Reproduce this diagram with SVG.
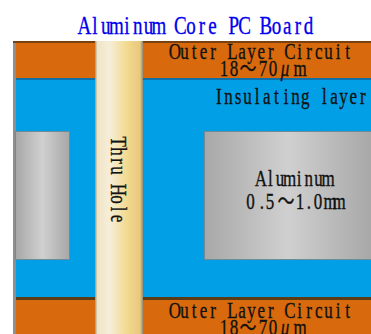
<svg xmlns="http://www.w3.org/2000/svg" width="371" height="334" viewBox="0 0 371 334">
<defs>
<linearGradient id="via" x1="0" x2="1" y1="0" y2="0"><stop offset="0" stop-color="#9a9482"/><stop offset="0.05" stop-color="#f0e4c4"/><stop offset="0.3" stop-color="#f6eeda"/><stop offset="0.68" stop-color="#f2d98c"/><stop offset="0.94" stop-color="#e8c87e"/><stop offset="1" stop-color="#8f8a7a"/></linearGradient>
<linearGradient id="al" x1="0" x2="1" y1="0" y2="0"><stop offset="0" stop-color="#a8a8a8"/><stop offset="0.5" stop-color="#d0d0d0"/><stop offset="1" stop-color="#a8a8a8"/></linearGradient>
<filter id="soft" x="-5%" y="-5%" width="110%" height="110%"><feGaussianBlur stdDeviation="0.6"/></filter>
</defs>
<style>
.t{font-family:"Liberation Serif","Noto Sans CJK JP",serif;font-size:17px;fill:#111;stroke:#111;stroke-width:0.25px;text-anchor:middle}
.cu{fill:#d86a10}
.ins{fill:#009fe6}
</style>
<rect width="371" height="334" fill="#fff"/>
<g id="board" filter="url(#soft)">
<rect x="13" y="41" width="358" height="293" fill="#8f8f8f"/>
<rect class="ins" x="16" y="78" width="355" height="221"/>
<rect class="cu" x="16" y="43" width="355" height="35"/>
<rect x="13" y="41" width="358" height="2" fill="#7a3f0c"/>
<rect x="16" y="78" width="355" height="2" fill="#0a6fa8"/>
<rect x="16" y="297" width="355" height="3" fill="#5a3a18"/>
<rect class="cu" x="16" y="300" width="355" height="34"/>
</g>
<g id="al-left" filter="url(#soft)">
<rect x="15" y="131" width="55" height="129" fill="#6f8a9a"/>
<rect x="16" y="132" width="53" height="127" fill="url(#al)"/>
</g>
<g id="al-right" filter="url(#soft)">
<rect x="204" y="131" width="167" height="129" fill="#6f8a9a"/>
<rect x="205" y="132" width="166" height="127" fill="url(#al)"/>
</g>
<g id="via-hole" filter="url(#soft)">
<rect x="95" y="41" width="48" height="293" fill="url(#via)"/>
</g>
<g id="labels">
<text class="t" style="fill:#0000ee;stroke:#0000ee;font-size:19px" transform="translate(0,33.500) scale(1,1.35)" x="84.3 95 105.7 116.3 127 137.7 148.4 159 169.7 180.4 191.1 201.8 212.4 223.1 233.8 244.5 255.2 265.8 276.5 287.2 297.9 308.6">Aluminum Core PC Board</text>
<text class="t" transform="translate(0,58.500) scale(1,1.35)" x="174.8 184.4 194 203.6 213.2 222.8 232.4 242 251.6 261.2 270.8 280.4 290 299.6 309.2 318.8 328.4 338 347.6">Outer Layer Circuit</text>
<text class="t" transform="translate(0,76) scale(1,1.3)" x="224 234 248 263 273 285 300">18〜70<tspan font-style="italic">μ</tspan>m</text>
<text class="t" transform="translate(0,104) scale(1,1.35)" x="218.8 228.4 238 247.6 257.2 266.8 276.4 286 295.6 305.2 314.8 324.4 334 343.6 353.2 362.8">Insulating layer</text>
<text class="t" transform="translate(0,185.500) scale(1,1.35)" x="260.8 270.4 280 289.6 299.2 308.8 318.4 328">Aluminum</text>
<text class="t" transform="translate(0,209) scale(1,1.35)" x="250.5 262 270 286 300 309 318 330 339">0.5〜1.0mm</text>
<text class="t" transform="translate(110.500,137) rotate(90) scale(1,1.35)" x="4.8 14.4 24 33.6 43.2 52.8 62.4 72 81.6">Thru Hole</text>
<text class="t" transform="translate(0,317.500) scale(1,1.35)" x="174.8 184.4 194 203.6 213.2 222.8 232.4 242 251.6 261.2 270.8 280.4 290 299.6 309.2 318.8 328.4 338 347.6">Outer Layer Circuit</text>
<text class="t" transform="translate(0,335) scale(1,1.3)" x="224 234 248 263 273 285 300">18〜70<tspan font-style="italic">μ</tspan>m</text>
</g>
</svg>
